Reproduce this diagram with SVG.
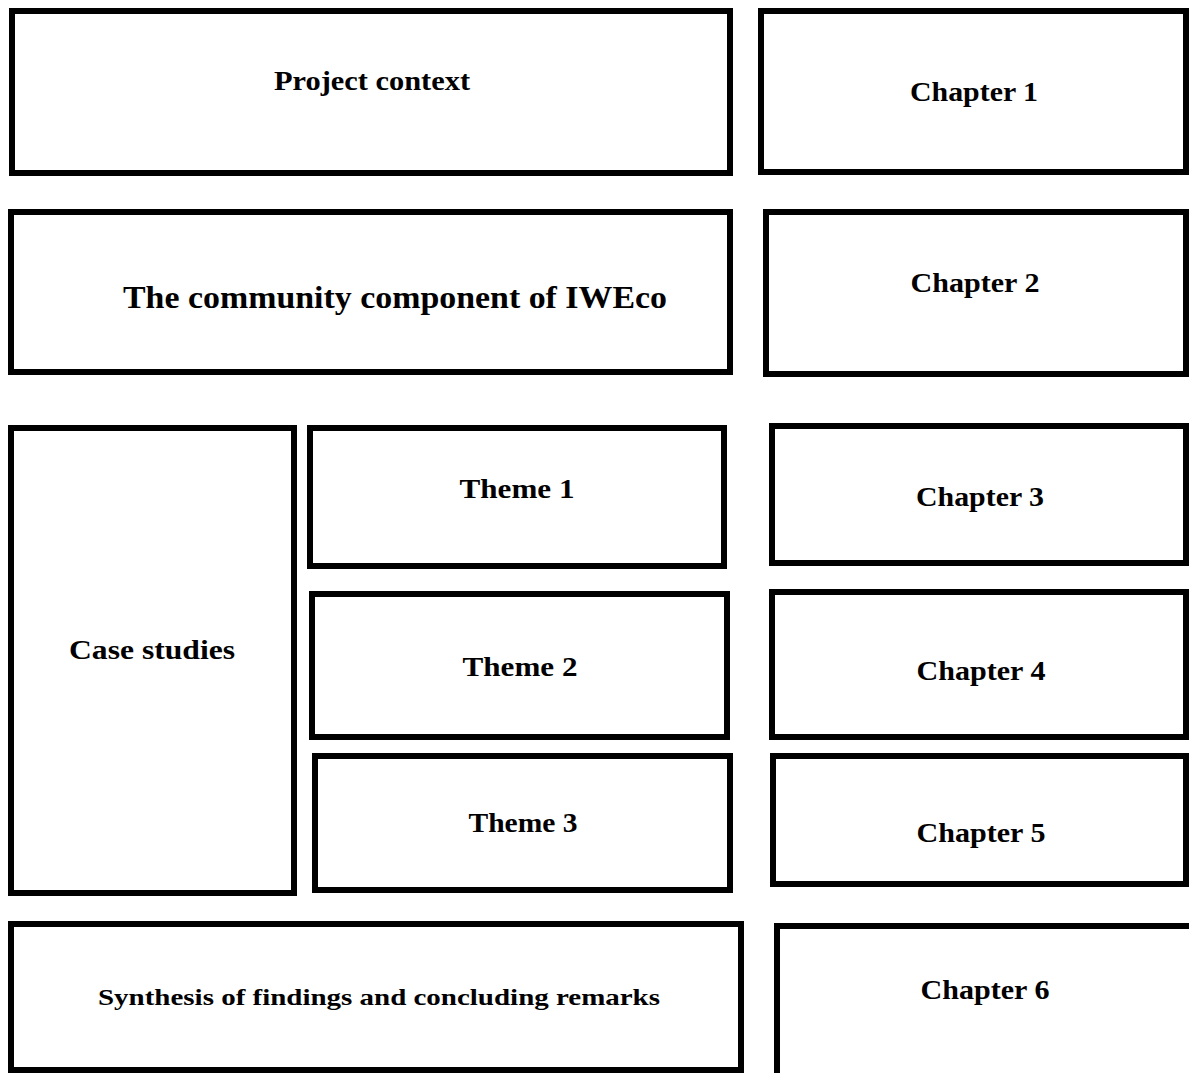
<svg xmlns="http://www.w3.org/2000/svg" width="1189" height="1073" viewBox="0 0 1189 1073">
<style>
.box{fill:#fff;stroke:#000;stroke-width:6}
.t{font-family:"Liberation Serif","Times New Roman",serif;font-weight:bold;fill:#000;text-anchor:middle}
.m{font-size:28px}
.l{font-size:32px}
.s{font-size:23px}
</style>
<rect width="1189" height="1073" fill="#fff"/>
<g id="project-context"><rect class="box" x="12" y="11" width="718" height="162"/><text class="t m" x="372" y="90" textLength="196" lengthAdjust="spacingAndGlyphs">Project context</text></g>
<g id="chapter-1"><rect class="box" x="761" y="11" width="425" height="161"/><text class="t m" x="974" y="101" textLength="128" lengthAdjust="spacingAndGlyphs">Chapter 1</text></g>
<g id="community"><rect class="box" x="11" y="212" width="719" height="160"/><text class="t l" x="395" y="308" textLength="544" lengthAdjust="spacingAndGlyphs">The community component of IWEco</text></g>
<g id="chapter-2"><rect class="box" x="766" y="212" width="420" height="162"/><text class="t m" x="975" y="292" textLength="129" lengthAdjust="spacingAndGlyphs">Chapter 2</text></g>
<g id="case-studies"><rect class="box" x="11" y="428" width="283" height="465"/><text class="t m" x="152" y="659" textLength="166" lengthAdjust="spacingAndGlyphs">Case studies</text></g>
<g id="theme-1"><rect class="box" x="310" y="428" width="414" height="138"/><text class="t m" x="517" y="498" textLength="115" lengthAdjust="spacingAndGlyphs">Theme 1</text></g>
<g id="chapter-3"><rect class="box" x="772" y="426" width="414" height="137"/><text class="t m" x="980" y="506" textLength="128" lengthAdjust="spacingAndGlyphs">Chapter 3</text></g>
<g id="theme-2"><rect class="box" x="312" y="594" width="415" height="143"/><text class="t m" x="520" y="676" textLength="115" lengthAdjust="spacingAndGlyphs">Theme 2</text></g>
<g id="chapter-4"><rect class="box" x="772" y="592" width="414" height="145"/><text class="t m" x="981" y="680" textLength="129" lengthAdjust="spacingAndGlyphs">Chapter 4</text></g>
<g id="theme-3"><rect class="box" x="315" y="756" width="415" height="134"/><text class="t m" x="523" y="832" textLength="109" lengthAdjust="spacingAndGlyphs">Theme 3</text></g>
<g id="chapter-5"><rect class="box" x="773" y="756" width="413" height="128"/><text class="t m" x="981" y="842" textLength="129" lengthAdjust="spacingAndGlyphs">Chapter 5</text></g>
<g id="synthesis"><rect class="box" x="11" y="924" width="730" height="146"/><text class="t s" x="379" y="1005" textLength="562" lengthAdjust="spacingAndGlyphs">Synthesis of findings and concluding remarks</text></g>
<g id="chapter-6"><rect class="box" x="777" y="926" width="420" height="160"/><text class="t m" x="985" y="999" textLength="129" lengthAdjust="spacingAndGlyphs">Chapter 6</text></g>
<g id="connectors"/>
</svg>
